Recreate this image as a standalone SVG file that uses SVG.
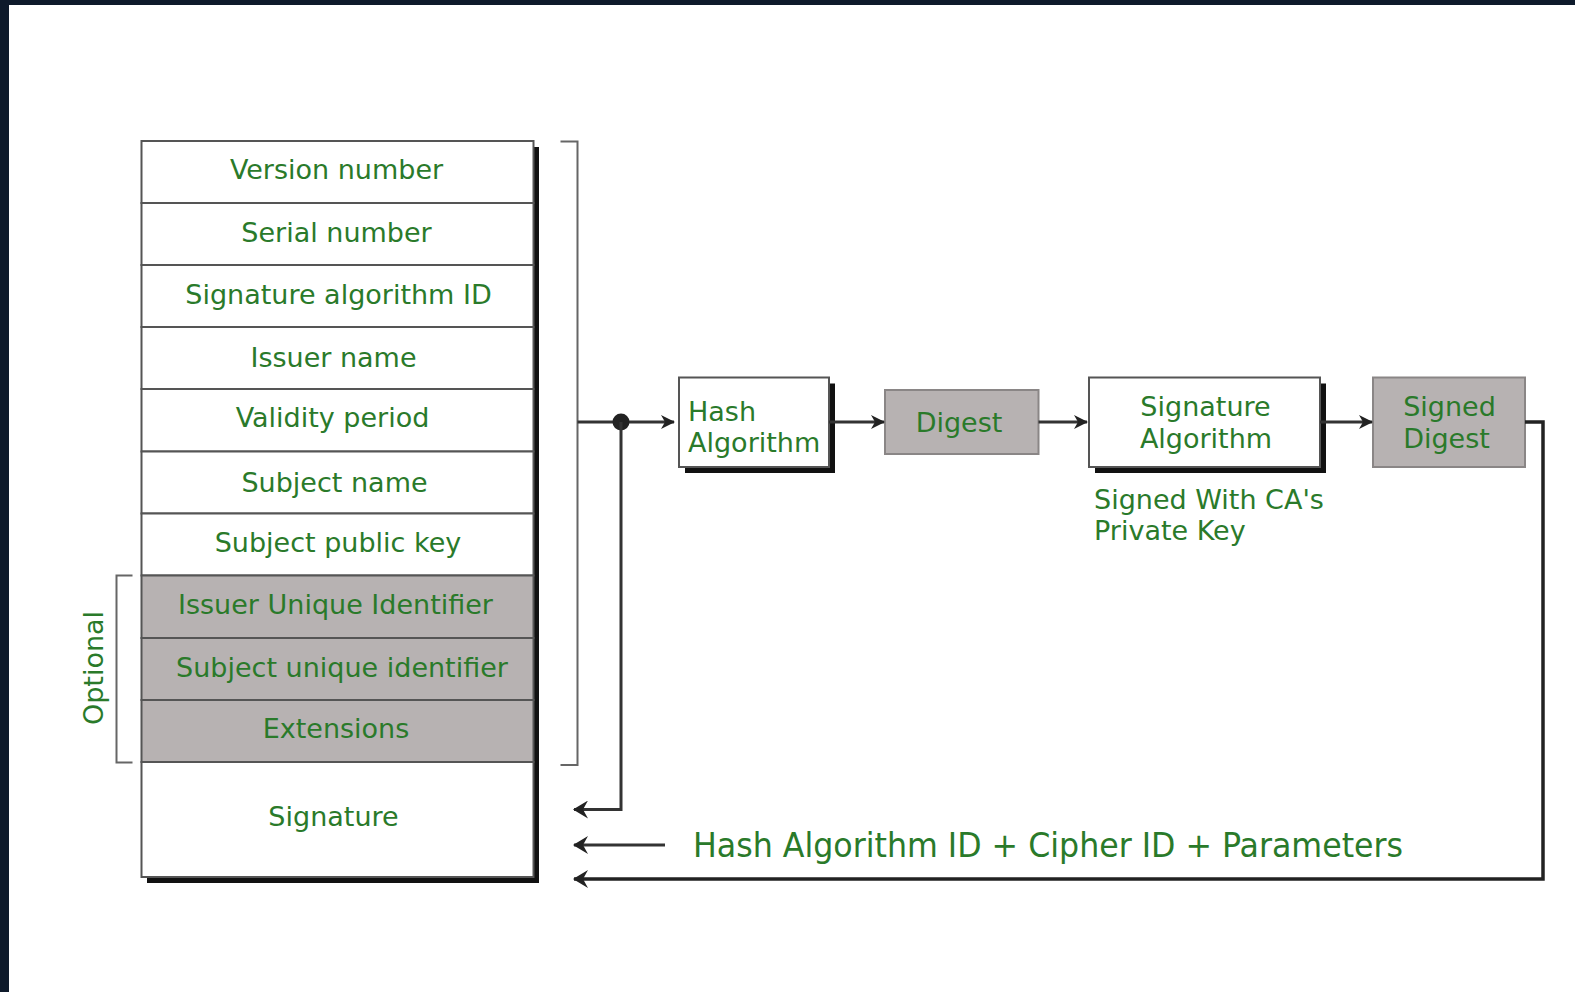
<svg xmlns="http://www.w3.org/2000/svg" width="1575" height="992" viewBox="0 0 1575 992">
<defs>
<style>
.t{font-family:"DejaVu Sans",Verdana,sans-serif;font-size:27px;fill:#2a7a2a}
.c{text-anchor:middle}
.row{fill:#ffffff;stroke:#555;stroke-width:2}
.opt{fill:#b7b2b2;stroke:#555;stroke-width:2}
.ln{fill:none;stroke:#333;stroke-width:3}
.br{fill:none;stroke:#666;stroke-width:2}
.box{fill:#fff;stroke:#555;stroke-width:2}
.gbox{fill:#b7b2b2;stroke:#8a8686;stroke-width:2}
</style>
<marker id="ah" viewBox="0 0 14 14" refX="13" refY="7" markerWidth="14" markerHeight="14" markerUnits="userSpaceOnUse" orient="auto">
<path d="M0,0 L14,7 L0,14 L4,7 Z" fill="#222"/>
</marker>
<marker id="ahL" viewBox="0 0 15 18" refX="14" refY="9" markerWidth="15" markerHeight="18" markerUnits="userSpaceOnUse" orient="auto">
<path d="M0,0 L15,9 L0,18 L5,9 Z" fill="#222"/>
</marker>
</defs>
<rect x="0" y="0" width="1575" height="992" fill="#ffffff"/>
<rect x="0" y="0" width="1575" height="5" fill="#0e1a2b"/>
<rect x="0" y="0" width="9" height="992" fill="#0e1a2b"/>

<g id="certificate">
<rect x="147" y="147" width="392" height="736" fill="#111"/>
<rect class="row" x="141.5" y="141" width="392" height="62"/>
<rect class="row" x="141.5" y="203" width="392" height="62"/>
<rect class="row" x="141.5" y="265" width="392" height="62"/>
<rect class="row" x="141.5" y="327" width="392" height="62"/>
<rect class="row" x="141.5" y="389" width="392" height="62.5"/>
<rect class="row" x="141.5" y="451.5" width="392" height="62"/>
<rect class="row" x="141.5" y="513.5" width="392" height="62"/>
<rect class="opt" x="141.5" y="575.5" width="392" height="62.5"/>
<rect class="opt" x="141.5" y="638" width="392" height="62"/>
<rect class="opt" x="141.5" y="700" width="392" height="62"/>
<rect class="row" x="141.5" y="762" width="392" height="115"/>
<text class="t c" x="336.5" y="178.5">Version number</text>
<text class="t c" x="336.5" y="241.5">Serial number</text>
<text class="t c" x="338.5" y="303.5">Signature algorithm ID</text>
<text class="t c" x="333.5" y="367">Issuer name</text>
<text class="t c" x="332.5" y="426.5">Validity period</text>
<text class="t c" x="334.5" y="491.5">Subject name</text>
<text class="t c" x="338" y="551.5">Subject public key</text>
<text class="t c" x="335.5" y="613.5">Issuer Unique Identifier</text>
<text class="t c" x="342" y="676.5">Subject unique identifier</text>
<text class="t c" x="336" y="737.5">Extensions</text>
<text class="t c" x="333.5" y="825.5">Signature</text>
</g>

<g id="optional-bracket">
<path class="br" d="M132.5,575.5 H116.5 V762.5 H132.5"/>
<text class="t c" transform="translate(102.5,668) rotate(-90)" x="0" y="0">Optional</text>
</g>

<g id="tbs-bracket">
<path class="br" d="M560.5,141.5 H577.5 V765 H560.5"/>
</g>

<g id="hash-algorithm">
<rect x="685" y="383.5" width="150" height="89.5" fill="#111"/>
<rect class="box" x="679" y="377.5" width="150" height="89.5"/>
<text class="t" x="688" y="421">Hash</text>
<text class="t" x="688" y="452">Algorithm</text>
</g>

<g id="digest">
<rect class="gbox" x="885" y="390" width="153.5" height="64"/>
<text class="t c" x="959" y="432">Digest</text>
</g>

<g id="signature-algorithm">
<rect x="1095" y="383.5" width="231" height="89.5" fill="#111"/>
<rect class="box" x="1089" y="377.5" width="231" height="89.5"/>
<text class="t c" x="1205.5" y="415.5">Signature</text>
<text class="t c" x="1206" y="447.5">Algorithm</text>
</g>

<g id="signed-digest">
<rect class="gbox" x="1373" y="377.5" width="152" height="89.5"/>
<text class="t c" x="1449.5" y="415.5">Signed</text>
<text class="t c" x="1446.5" y="447.5">Digest</text>
</g>

<g id="ca-note">
<text class="t" x="1094" y="508.5">Signed With CA's</text>
<text class="t" x="1094" y="539.5">Private Key</text>
</g>

<g id="connectors">
<line class="ln" x1="577.5" y1="422" x2="674" y2="422" marker-end="url(#ah)"/>
<circle cx="621" cy="422" r="8.5" fill="#222"/>
<path class="ln" d="M621,422 V809.5 H574" marker-end="url(#ahL)"/>
<line class="ln" x1="829" y1="422" x2="884" y2="422" marker-end="url(#ah)"/>
<line class="ln" x1="1038.5" y1="422" x2="1087" y2="422" marker-end="url(#ah)"/>
<line class="ln" x1="1320" y1="422" x2="1372" y2="422" marker-end="url(#ah)"/>
<path d="M1525,422 H1543 V879 H574" fill="none" stroke="#222" stroke-width="3.5" marker-end="url(#ahL)"/>
<line class="ln" x1="665" y1="845" x2="574" y2="845" marker-end="url(#ahL)"/>
</g>

<g id="parameters-label">
<text x="693" y="857" textLength="710" lengthAdjust="spacingAndGlyphs" style="font-family:'DejaVu Sans Condensed','DejaVu Sans',sans-serif;font-size:33px;fill:#2a7a2a">Hash Algorithm ID + Cipher ID + Parameters</text>
</g>
</svg>
